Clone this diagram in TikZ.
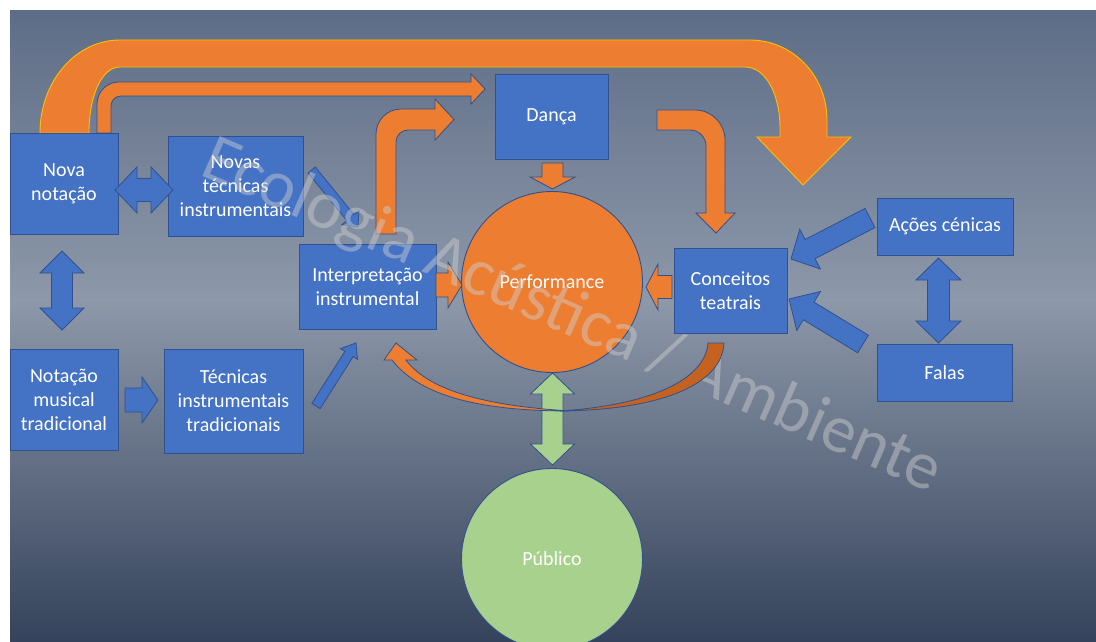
\documentclass[tikz,border=0pt]{standalone}
\usepackage{fontspec}
\setmainfont{Carlito}
\usetikzlibrary{calc}

\definecolor{bgtop}{HTML}{5E6D87}
\definecolor{bgmid}{HTML}{8D98A9}
\definecolor{bgbot}{HTML}{34425B}
\definecolor{boxblue}{HTML}{4472C4}
\definecolor{edgeblue}{HTML}{2F528F}
\definecolor{accent}{HTML}{ED7D31}
\definecolor{accentdark}{HTML}{C5621F}
\definecolor{gold}{HTML}{FFC000}
\definecolor{leaf}{HTML}{A9D18E}

% straight block arrow: [style]{tail}{tip}{shaft half width}{head half width}{head length}
\newcommand\shaftarrow[6][]{%
  \path[#1] let \p1=#2, \p2=#3, \n1={atan2(\y2-\y1,\x2-\x1)}, \p3=($#3!#6pt!#2$) in
    ($(\p1)+(\n1+90:#4pt)$) -- ($(\p3)+(\n1+90:#4pt)$) -- ($(\p3)+(\n1+90:#5pt)$) -- (\p2)
    -- ($(\p3)+(\n1-90:#5pt)$) -- ($(\p3)+(\n1-90:#4pt)$) -- ($(\p1)+(\n1-90:#4pt)$) -- cycle;}

% two-headed block arrow: [style]{tip one}{tip two}{shaft half width}{head half width}{head length}
\newcommand\doubleshaft[6][]{%
  \path[#1] let \p1=#2, \p2=#3, \n1={atan2(\y2-\y1,\x2-\x1)}, \p3=($#2!#6pt!#3$), \p4=($#3!#6pt!#2$) in
    (\p1) -- ($(\p3)+(\n1+90:#5pt)$) -- ($(\p3)+(\n1+90:#4pt)$) -- ($(\p4)+(\n1+90:#4pt)$)
    -- ($(\p4)+(\n1+90:#5pt)$) -- (\p2) -- ($(\p4)+(\n1-90:#5pt)$) -- ($(\p4)+(\n1-90:#4pt)$)
    -- ($(\p3)+(\n1-90:#4pt)$) -- ($(\p3)+(\n1-90:#5pt)$) -- cycle;}

\tikzset{
  box/.style={draw=edgeblue, fill=boxblue, line width=0.9pt, inner sep=0pt,
    text=white, align=center, font=\fontsize{20}{24}\selectfont},
  disc/.style={circle, draw=edgeblue, line width=0.9pt, inner sep=0pt,
    minimum size=181pt, text=white, font=\fontsize{20}{24}\selectfont},
  bluearrow/.style={draw=edgeblue, fill=boxblue, line width=0.8pt},
  orangearrow/.style={draw=edgeblue, fill=accent, line width=0.8pt},
  greenarrow/.style={draw=edgeblue, fill=leaf, line width=0.8pt},
  goldarrow/.style={draw=gold, fill=accent, line width=0.9pt},
  watermark/.style={text=white!82!black, text opacity=0.45, inner sep=0pt,
    font=\fontsize{68}{72}\selectfont},
}

\begin{document}
\begin{tikzpicture}[x=1pt, y=-1pt]
\useasboundingbox (0,0) rectangle (1096,642);
\fill[white] (0,0) rectangle (1096,642);

% slide background
\shade[top color=bgtop, bottom color=bgmid] (10,11) rectangle (1096,300.5);
\shade[top color=bgmid, bottom color=bgbot] (10,300) rectangle (1096,642);

% wide bent arrow over the top
\path[goldarrow] (40,133) .. controls (40,81) and (76,40) .. (120,40) -- (750,40)
  .. controls (792,40) and (827,75) .. (827,120) -- (827,137) -- (851,137) -- (803,185)
  -- (757,137) -- (780,137) -- (780,128) .. controls (780,95) and (766,67) .. (745,67)
  -- (120,67) .. controls (102,67) and (89,95) .. (89,133) -- cycle;

% narrow bent arrow towards Dança
\path[orangearrow] (97,133) -- (97,104) .. controls (97,91.8) and (106.8,82) .. (119,82)
  -- (471,82) -- (471,74) -- (485,89) -- (471,104) -- (471,96) -- (121,96)
  .. controls (115.5,96) and (111,100.5) .. (111,106) -- (111,133) -- cycle;

% bent arrow rising from Interpretação
\path[orangearrow] (376,234) -- (376,134) .. controls (376,120.2) and (387.2,109) .. (401,109)
  -- (435,109) -- (435,99) -- (454,119.5) -- (435,140) -- (435,130) -- (408,130)
  .. controls (401.4,130) and (396,135.4) .. (396,142) -- (396,234) -- cycle;

% bent arrow falling onto Conceitos
\path[orangearrow] (657,110) -- (695,110) .. controls (711.6,110) and (725,123.4) .. (725,140)
  -- (725,213) -- (735,213) -- (716,233) -- (696,213) -- (706,213) -- (706,146)
  .. controls (706,137.2) and (698.8,130) .. (690,130) -- (657,130) -- cycle;

% nodes
\node[box, minimum width=108pt, minimum height=101pt] (nova) at (64,183.5) {Nova\\notação};
\node[box, minimum width=135pt, minimum height=100pt] (novas) at (235.5,186) {Novas\\técnicas\\instrumentais};
\node[box, minimum width=137pt, minimum height=85pt] (interp) at (367.5,286.5) {Interpretação\\instrumental};
\node[box, minimum width=108pt, minimum height=101pt] (notacao) at (64,399.5) {Notação\\musical\\tradicional};
\node[box, minimum width=139pt, minimum height=104pt] (tecnicas) at (233.5,401) {Técnicas\\instrumentais\\tradicionais};
\node[box, minimum width=113pt, minimum height=85pt] (danca) at (551.5,116.5) {Dança};
\node[box, minimum width=113pt, minimum height=85pt] (conceitos) at (730.5,290.5) {Conceitos\\teatrais};
\node[box, minimum width=136pt, minimum height=57pt] (acoes) at (945,226.5) {Ações cénicas};
\node[box, minimum width=135pt, minimum height=57pt] (falas) at (944.5,372.5) {Falas};
\node[disc, fill=accent] (perf) at (552,282) {Performance};
\node[disc, fill=leaf] (publico) at (552,559) {Público};

% straight block arrows
\shaftarrow[orangearrow]{(552.5,163)}{(552.5,189)}{10.5}{22.5}{12}
\shaftarrow[orangearrow]{(672,287)}{(646,287)}{11.5}{23}{12}
\shaftarrow[orangearrow]{(436,285)}{(462,285)}{12}{23}{14}
\shaftarrow[bluearrow]{(125,400)}{(158,400)}{12}{23}{16}
\shaftarrow[bluearrow]{(316,406)}{(356,343)}{4.9}{10}{13}
\shaftarrow[bluearrow]{(311.7,170)}{(358,227)}{4.7}{10.9}{12}
\shaftarrow[bluearrow]{(870,218)}{(791,259)}{10.8}{22.4}{21.5}
\shaftarrow[bluearrow]{(863,344)}{(789,299)}{10.3}{22.8}{23}

% two-headed arrows
\doubleshaft[bluearrow]{(115,190)}{(173,190)}{11.5}{23}{22}
\doubleshaft[bluearrow]{(62,251)}{(62,330)}{10.5}{22}{22}
\doubleshaft[bluearrow]{(938.5,258)}{(938.5,343)}{11}{22.5}{22}
\doubleshaft[greenarrow]{(552.5,373)}{(552.5,465)}{10.5}{22}{21}

% watermark lettering
\node[watermark, rotate=-23.5, anchor=base] (wm) at (565,334) {Ecologia Acústica / Ambiente};

% curved return arrow under Performance
\path[draw=edgeblue, fill=accentdark, line width=0.8pt] (724,343)
  .. controls (722,385) and (660,410) .. (560,411)
  .. controls (650,405) and (705,380) .. (708,343) -- cycle;
\path[orangearrow] (392,360) -- (384,360) -- (396,343) -- (417,360) -- (406,360)
  .. controls (430,392) and (490,406) .. (570,411)
  .. controls (480,411) and (420,396) .. (392,360) -- cycle;
\end{tikzpicture}
\end{document}
